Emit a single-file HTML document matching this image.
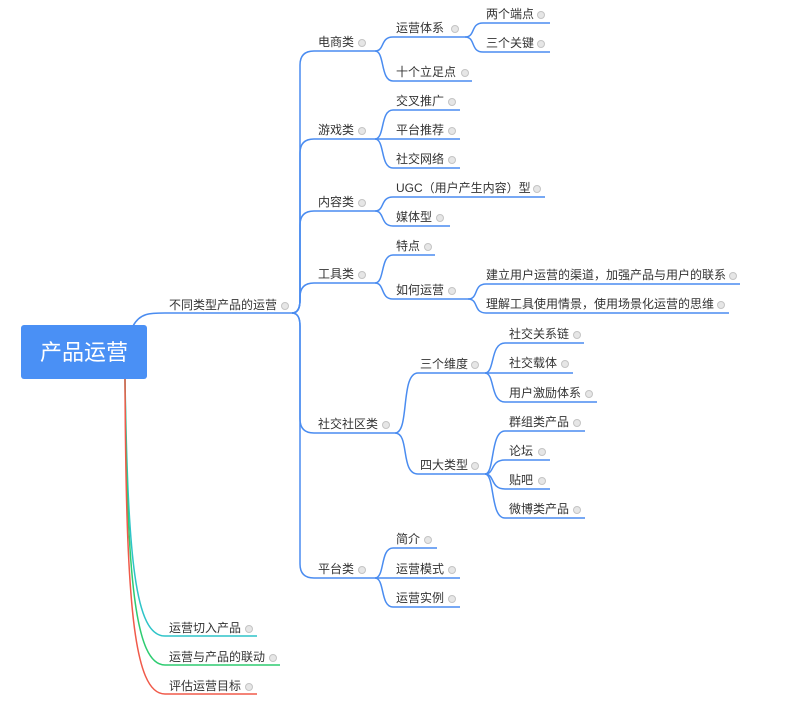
<!DOCTYPE html>
<html><head><meta charset="utf-8"><style>
html,body{margin:0;padding:0;background:#fff;width:787px;height:702px;overflow:hidden}
svg text{font-family:"Liberation Sans","Noto Sans CJK SC",sans-serif;font-size:12px;fill:#333}
.l{fill:none;stroke:#4a8cf0;stroke-width:1.5}
.ic{fill:#e6e6e6;stroke:#c4c4c4;stroke-width:1}
</style></head><body>
<svg width="787" height="702" viewBox="0 0 787 702" xmlns="http://www.w3.org/2000/svg">
<rect x="21" y="325" width="126" height="54" rx="3" fill="#4a90f5"/>
<text x="84" y="360" text-anchor="middle" style="font-size:22px;fill:#fff">产品运营</text>

<path class="l" d="M133 326 C140 313 150 313 165 313 L292 313"/>
<text x="169" y="309">不同类型产品的运营</text><circle class="ic" cx="285" cy="306" r="3.5"/>

<path class="l" d="M292 313 Q300 313 300 300 L300 65 Q300 51 314 51 L375 51"/>
<path class="l" d="M292 313 Q300 313 300 300 L300 153 Q300 139 314 139 L375 139"/>
<path class="l" d="M292 313 Q300 313 300 300 L300 225 Q300 211 314 211 L375 211"/>
<path class="l" d="M292 313 Q300 313 300 300 L300 297 Q300 283 314 283 L375 283"/>
<path class="l" d="M292 313 Q300 313 300 326 L300 419 Q300 433 314 433 L395 433"/>
<path class="l" d="M292 313 Q300 313 300 326 L300 564 Q300 578 314 578 L375 578"/>
<text x="318" y="46">电商类</text><circle class="ic" cx="362" cy="43" r="3.5"/>
<text x="318" y="134">游戏类</text><circle class="ic" cx="362" cy="131" r="3.5"/>
<text x="318" y="206">内容类</text><circle class="ic" cx="362" cy="203" r="3.5"/>
<text x="318" y="278">工具类</text><circle class="ic" cx="362" cy="275" r="3.5"/>
<text x="318" y="428">社交社区类</text><circle class="ic" cx="386" cy="425" r="3.5"/>
<text x="318" y="573">平台类</text><circle class="ic" cx="362" cy="570" r="3.5"/>

<path class="l" d="M375 51 C385 51 380 37 393 37 L465 37"/>
<path class="l" d="M375 51 C385 51 380 81 393 81 L472 81"/>
<text x="396" y="32">运营体系</text><circle class="ic" cx="455" cy="29" r="3.5"/>
<text x="396" y="76">十个立足点</text><circle class="ic" cx="465" cy="73" r="3.5"/>
<path class="l" d="M465 37 C476 37 470 23 483 23 L550 23"/>
<path class="l" d="M465 37 C476 37 470 52 483 52 L550 52"/>
<text x="486" y="18">两个端点</text><circle class="ic" cx="541" cy="15" r="3.5"/>
<text x="486" y="47">三个关键</text><circle class="ic" cx="541" cy="44" r="3.5"/>

<path class="l" d="M375 139 C385 139 380 110 393 110 L460 110"/>
<path class="l" d="M375 139 L460 139"/>
<path class="l" d="M375 139 C385 139 380 168 393 168 L460 168"/>
<text x="396" y="105">交叉推广</text><circle class="ic" cx="452" cy="102" r="3.5"/>
<text x="396" y="134">平台推荐</text><circle class="ic" cx="452" cy="131" r="3.5"/>
<text x="396" y="163">社交网络</text><circle class="ic" cx="452" cy="160" r="3.5"/>

<path class="l" d="M375 211 C385 211 380 197 393 197 L545 197"/>
<path class="l" d="M375 211 C385 211 380 226 393 226 L450 226"/>
<text x="396" y="192">UGC（用户产生内容）型</text><circle class="ic" cx="537" cy="189" r="3.5"/>
<text x="396" y="221">媒体型</text><circle class="ic" cx="440" cy="218" r="3.5"/>

<path class="l" d="M375 283 C385 283 380 255 393 255 L435 255"/>
<path class="l" d="M375 283 C385 283 380 299 393 299 L468 299"/>
<text x="396" y="250">特点</text><circle class="ic" cx="428" cy="247" r="3.5"/>
<text x="396" y="294">如何运营</text><circle class="ic" cx="452" cy="291" r="3.5"/>
<path class="l" d="M468 299 C479 299 473 284 486 284 L740 284"/>
<path class="l" d="M468 299 C479 299 473 313 486 313 L729 313"/>
<text x="486" y="279">建立用户运营的渠道，加强产品与用户的联系</text><circle class="ic" cx="733" cy="276" r="3.5"/>
<text x="486" y="308">理解工具使用情景，使用场景化运营的思维</text><circle class="ic" cx="721" cy="305" r="3.5"/>

<path class="l" d="M395 433 C410 433 400 373 418 373 L485 373"/>
<path class="l" d="M395 433 C410 433 400 474 418 474 L485 474"/>
<text x="420" y="368">三个维度</text><circle class="ic" cx="475" cy="365" r="3.5"/>
<text x="420" y="469">四大类型</text><circle class="ic" cx="475" cy="466" r="3.5"/>
<path class="l" d="M485 373 C495 373 490 343 505 343 L584 343"/>
<path class="l" d="M485 373 L573 373"/>
<path class="l" d="M485 373 C495 373 490 402 505 402 L597 402"/>
<text x="509" y="338">社交关系链</text><circle class="ic" cx="577" cy="335" r="3.5"/>
<text x="509" y="367">社交载体</text><circle class="ic" cx="565" cy="364" r="3.5"/>
<text x="509" y="397">用户激励体系</text><circle class="ic" cx="589" cy="394" r="3.5"/>
<path class="l" d="M485 474 C495 474 490 431 505 431 L585 431"/>
<path class="l" d="M485 474 C495 474 490 460 505 460 L550 460"/>
<path class="l" d="M485 474 C495 474 490 489 505 489 L550 489"/>
<path class="l" d="M485 474 C495 474 490 518 505 518 L585 518"/>
<text x="509" y="426">群组类产品</text><circle class="ic" cx="577" cy="423" r="3.5"/>
<text x="509" y="455">论坛</text><circle class="ic" cx="542" cy="452" r="3.5"/>
<text x="509" y="484">贴吧</text><circle class="ic" cx="542" cy="481" r="3.5"/>
<text x="509" y="513">微博类产品</text><circle class="ic" cx="577" cy="510" r="3.5"/>

<path class="l" d="M375 578 C385 578 380 548 393 548 L437 548"/>
<path class="l" d="M375 578 L460 578"/>
<path class="l" d="M375 578 C385 578 380 607 393 607 L460 607"/>
<text x="396" y="543">简介</text><circle class="ic" cx="428" cy="540" r="3.5"/>
<text x="396" y="573">运营模式</text><circle class="ic" cx="452" cy="570" r="3.5"/>
<text x="396" y="602">运营实例</text><circle class="ic" cx="452" cy="599" r="3.5"/>

<path d="M125 379 C128 560 135 636 165 636 L257 636" fill="none" stroke="#2ec4c8" stroke-width="1.5"/>
<path d="M125 379 C127 580 135 665 165 665 L280 665" fill="none" stroke="#2ecc71" stroke-width="1.5"/>
<path d="M125 379 C126 600 133 694 165 694 L257 694" fill="none" stroke="#f05a4a" stroke-width="1.5"/>
<text x="169" y="632">运营切入产品</text><circle class="ic" cx="249" cy="629" r="3.5"/>
<text x="169" y="661">运营与产品的联动</text><circle class="ic" cx="273" cy="658" r="3.5"/>
<text x="169" y="690">评估运营目标</text><circle class="ic" cx="249" cy="687" r="3.5"/>
</svg>
</body></html>
